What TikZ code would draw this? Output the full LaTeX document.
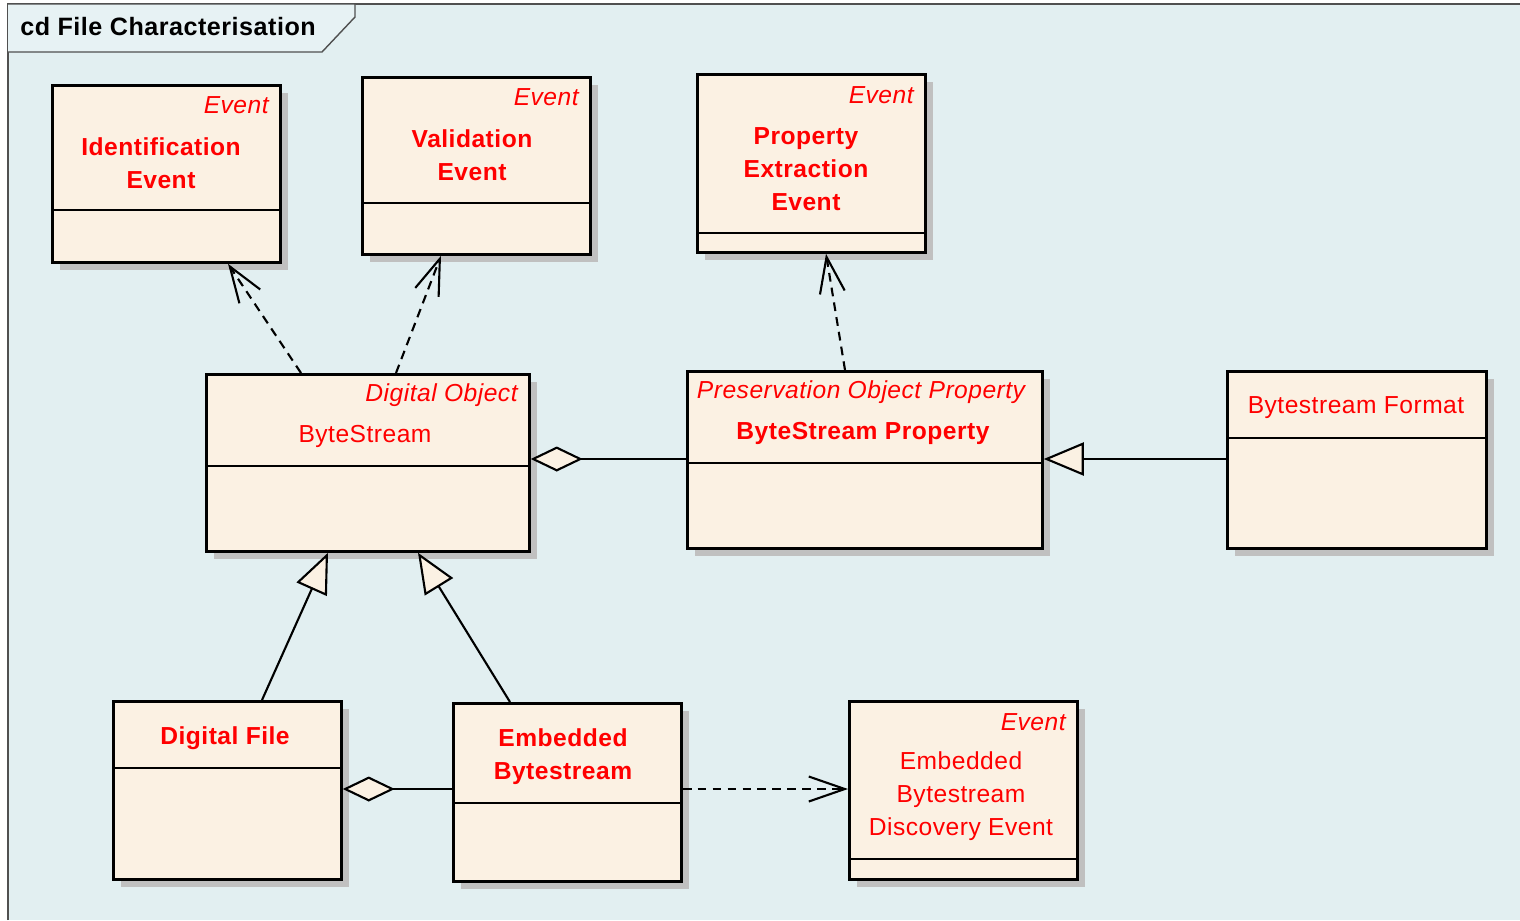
\documentclass[tikz,border=0pt]{standalone}
\usepackage{fontspec}
\setmainfont{Liberation Sans}[LetterSpace=2]
\usetikzlibrary{shapes.geometric}
\usetikzlibrary{arrows.meta}
\usetikzlibrary{shadows}

\definecolor{diagramBg}{HTML}{E2EFF1}
\definecolor{tabBg}{HTML}{E7F2F4}
\definecolor{classFill}{HTML}{FBF1E3}
\definecolor{classShadow}{HTML}{C0C0C0}
\definecolor{classText}{HTML}{FF0000}
\definecolor{frameLine}{HTML}{505050}

\tikzset{
  class_box/.style={rectangle, draw=black, line width=1.6pt,
                    fill=classFill, anchor=north west, inner sep=0pt,
                    drop shadow={shadow xshift=0.16cm, shadow yshift=-0.16cm,
                                 fill=classShadow, opacity=1}},
  sep_line/.style={draw=black, line width=1.3pt},
  stereo/.style={font=\fontsize{14}{17}\selectfont\itshape,
                 text=classText, inner sep=0pt, anchor=east},
  name_bold/.style={font=\fontsize{14}{18.8}\selectfont\bfseries,
                    text=classText, inner sep=0pt, align=center},
  name_plain/.style={font=\fontsize{14}{18.8}\selectfont,
                     text=classText, inner sep=0pt, align=center},
  realize/.style={draw, line width=1.2pt, dash pattern=on 5pt off 3.5pt,
                  -{Straight Barb[length=0.72cm, width=0.5cm]}},
  inherit/.style={draw, line width=1.2pt,
                  -{Triangle[length=0.8cm, width=0.66cm, fill=classFill]}},
  aggregate/.style={draw, line width=1.2pt,
                    {Diamond[length=1.04cm, width=0.5cm, fill=classFill]}-}
}

\begin{document}
\begin{tikzpicture}[x=0.02cm, y=-0.02cm]

    \useasboundingbox (0,0) rectangle (1520,920);

    % Diagram frame and title tab
    \fill[diagramBg] (8,4) rectangle (1520,920);
    \draw[frameLine, line width=0.8pt] (8,920) -- (8,4) -- (1520,4);
    \draw[frameLine, fill=tabBg, line width=0.8pt]
          (8,4) -- (355,4) -- (355,17) -- (322,52) -- (8,52);
    \node[font=\fontsize{14.3}{17}\selectfont\bfseries, anchor=west,
          inner sep=0pt] (Title) at (20,27) {cd File Characterisation};

    % Event classes on top
    \node[class_box, minimum width=4.56cm, minimum height=3.54cm]
          (Identification_Event) at (51,84) {};
    \draw[sep_line] (Identification_Event.west |- 0,210) -- (Identification_Event.east |- 0,210);
    \node[stereo] (Identification_Stereo) at (269,105) {Event};
    \node[name_bold] (Identification_Name) at (161,163) {Identification\\Event};

    \node[class_box, minimum width=4.56cm, minimum height=3.54cm]
          (Validation_Event) at (361,76) {};
    \draw[sep_line] (Validation_Event.west |- 0,203) -- (Validation_Event.east |- 0,203);
    \node[stereo] (Validation_Stereo) at (579,97) {Event};
    \node[name_bold] (Validation_Name) at (472,155) {Validation\\Event};

    \node[class_box, minimum width=4.56cm, minimum height=3.56cm]
          (Extraction_Event) at (696,73) {};
    \draw[sep_line] (Extraction_Event.west |- 0,233) -- (Extraction_Event.east |- 0,233);
    \node[stereo] (Extraction_Stereo) at (914,95) {Event};
    \node[name_bold] (Extraction_Name) at (806,169) {Property\\Extraction\\Event};

    % Middle row
    \node[class_box, minimum width=6.46cm, minimum height=3.54cm]
          (Byte_Stream) at (205,373) {};
    \draw[sep_line] (Byte_Stream.west |- 0,466) -- (Byte_Stream.east |- 0,466);
    \node[stereo] (Byte_Stream_Stereo) at (518,395) {Digital Object};
    \node[name_plain] (Byte_Stream_Name) at (365,436) {ByteStream};

    \node[class_box, minimum width=7.10cm, minimum height=3.54cm]
          (Stream_Property) at (686,370) {};
    \draw[sep_line] (Stream_Property.west |- 0,463) -- (Stream_Property.east |- 0,463);
    \node[stereo, anchor=center] (Stream_Property_Stereo) at (861,392) {Preservation Object Property};
    \node[name_bold] (Stream_Property_Name) at (863,433) {ByteStream Property};

    \node[class_box, minimum width=5.18cm, minimum height=3.54cm]
          (Stream_Format) at (1226,370) {};
    \draw[sep_line] (Stream_Format.west |- 0,438) -- (Stream_Format.east |- 0,438);
    \node[name_plain] (Stream_Format_Name) at (1356,408) {Bytestream Format};

    % Bottom row
    \node[class_box, minimum width=4.56cm, minimum height=3.56cm]
          (Digital_File) at (112,700) {};
    \draw[sep_line] (Digital_File.west |- 0,768) -- (Digital_File.east |- 0,768);
    \node[name_bold] (Digital_File_Name) at (225,738) {Digital File};

    \node[class_box, minimum width=4.56cm, minimum height=3.56cm]
          (Embedded_Stream) at (452,702) {};
    \draw[sep_line] (Embedded_Stream.west |- 0,803) -- (Embedded_Stream.east |- 0,803);
    \node[name_bold] (Embedded_Stream_Name) at (563,757) {Embedded\\Bytestream};

    \node[class_box, minimum width=4.56cm, minimum height=3.56cm]
          (Discovery_Event) at (848,700) {};
    \draw[sep_line] (Discovery_Event.west |- 0,859) -- (Discovery_Event.east |- 0,859);
    \node[stereo] (Discovery_Stereo) at (1066,722) {Event};
    \node[name_plain] (Discovery_Name) at (961,796) {Embedded\\Bytestream\\Discovery Event};

    % Connectors
    \draw[realize] (Byte_Stream.north -| 301,0) -- (Identification_Event.south -| 228,0);
    \draw[realize] (Byte_Stream.north -| 396,0) -- (Validation_Event.south -| 441,0);
    \draw[realize] (Stream_Property.north -| 845,0) -- (Extraction_Event.south -| 826,0);
    \draw[aggregate] (Byte_Stream.east |- 0,459) -- (Stream_Property.west |- 0,459);
    \draw[inherit] (Stream_Format.west |- 0,459) -- (Stream_Property.east |- 0,459);
    \draw[inherit] (Digital_File.north -| 262,0) -- (Byte_Stream.south -| 328,0);
    \draw[inherit] (Embedded_Stream.north -| 510,0) -- (Byte_Stream.south -| 418,0);
    \draw[aggregate] (Digital_File.east |- 0,789) -- (Embedded_Stream.west |- 0,789);
    \draw[realize] (Embedded_Stream.east |- 0,789) -- (Discovery_Event.west |- 0,789);

\end{tikzpicture}
\end{document}
